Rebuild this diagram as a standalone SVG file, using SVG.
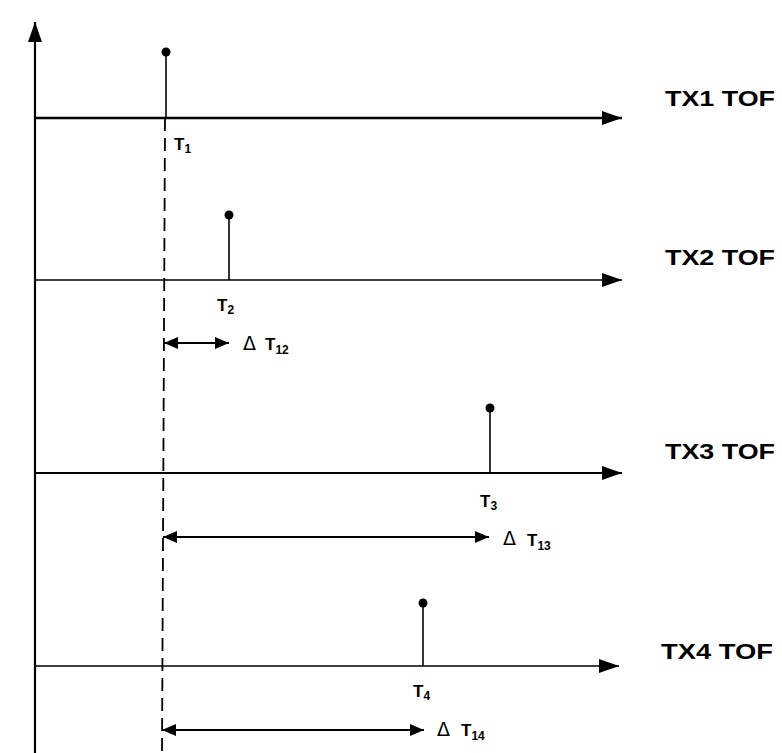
<svg xmlns="http://www.w3.org/2000/svg" width="782" height="753" viewBox="0 0 782 753">
<style>
.ax{stroke:#000;fill:none}
.stem{stroke:#000;stroke-width:1.6}
.dot{fill:#000}
.lbl{font-family:"Liberation Sans",Arial,sans-serif;font-weight:bold;fill:#000;font-size:17px}
.sub{font-size:12px}
.tof{font-family:"Liberation Sans",Arial,sans-serif;font-weight:bold;font-size:22px;fill:#000}
.dl{font-family:"DejaVu Sans","Liberation Sans",sans-serif;font-size:19px;fill:#000}
.dbl{stroke:#000;stroke-width:2;fill:none;marker-start:url(#ha);marker-end:url(#ha)}
</style>
<defs>
<marker id="ah" viewBox="0 0 20 14" refX="20" refY="7" markerWidth="20" markerHeight="14" markerUnits="userSpaceOnUse" orient="auto">
<path d="M0,0 L20,7 L0,14 Z" fill="#000"/>
</marker>
<marker id="ha" viewBox="0 0 14 12" refX="14" refY="6" markerWidth="14" markerHeight="12" markerUnits="userSpaceOnUse" orient="auto-start-reverse">
<path d="M0,0 L14,6 L0,12 Z" fill="#000"/>
</marker>
</defs>
<g id="connectors">
<line id="yaxis" class="ax" x1="35" y1="753" x2="35" y2="22" stroke-width="2.2" marker-end="url(#ah)"/>
<line class="ax" x1="35" y1="118" x2="622" y2="118" stroke-width="2.5" marker-end="url(#ah)"/>
<line class="ax" x1="35" y1="280" x2="622" y2="280" stroke-width="1.6" marker-end="url(#ah)"/>
<line class="ax" x1="35" y1="473" x2="622" y2="473" stroke-width="2" marker-end="url(#ah)"/>
<line class="ax" x1="35" y1="666" x2="619" y2="666" stroke-width="1.6" marker-end="url(#ah)"/>
<line id="ref" class="ax" x1="165" y1="118" x2="162" y2="753" stroke-width="1.8" stroke-dasharray="13,7"/>
<line class="dbl" x1="164" y1="343" x2="229" y2="343"/>
<line class="dbl" x1="163" y1="537" x2="489" y2="537"/>
<line class="dbl" x1="162" y1="730" x2="424" y2="730"/>
</g>
<g id="tx1">
<line class="stem" x1="166" y1="52" x2="166" y2="118"/>
<circle class="dot" cx="166" cy="52" r="4.5"/>
<text class="lbl" x="174" y="150">T<tspan class="sub" dy="3">1</tspan></text>
<text class="tof" x="665" y="106" textLength="110" lengthAdjust="spacingAndGlyphs">TX1 TOF</text>
</g>
<g id="tx2">
<line class="stem" x1="229" y1="215" x2="229" y2="280"/>
<circle class="dot" cx="229" cy="215" r="4.5"/>
<text class="lbl" x="217" y="311">T<tspan class="sub" dy="3">2</tspan></text>
<text class="tof" x="665" y="265" textLength="110" lengthAdjust="spacingAndGlyphs">TX2 TOF</text>
</g>
<g id="tx3">
<line class="stem" x1="490" y1="408" x2="490" y2="473"/>
<circle class="dot" cx="490" cy="408" r="4.5"/>
<text class="lbl" x="480" y="507">T<tspan class="sub" dy="3">3</tspan></text>
<text class="tof" x="665" y="459" textLength="110" lengthAdjust="spacingAndGlyphs">TX3 TOF</text>
</g>
<g id="tx4">
<line class="stem" x1="423" y1="603" x2="423" y2="666"/>
<circle class="dot" cx="423" cy="603" r="4.5"/>
<text class="lbl" x="413" y="697">T<tspan class="sub" dy="3">4</tspan></text>
<text class="tof" x="661" y="659" textLength="112" lengthAdjust="spacingAndGlyphs">TX4 TOF</text>
</g>
<g id="dt12">
<text class="dl" x="243" y="350">Δ</text>
<text class="lbl" x="265" y="350">T<tspan class="sub" dy="4">12</tspan></text>
</g>
<g id="dt13">
<text class="dl" x="503" y="545">Δ</text>
<text class="lbl" x="527" y="546">T<tspan class="sub" dy="4">13</tspan></text>
</g>
<g id="dt14">
<text class="dl" x="437" y="736">Δ</text>
<text class="lbl" x="461" y="736">T<tspan class="sub" dy="4">14</tspan></text>
</g>
</svg>
